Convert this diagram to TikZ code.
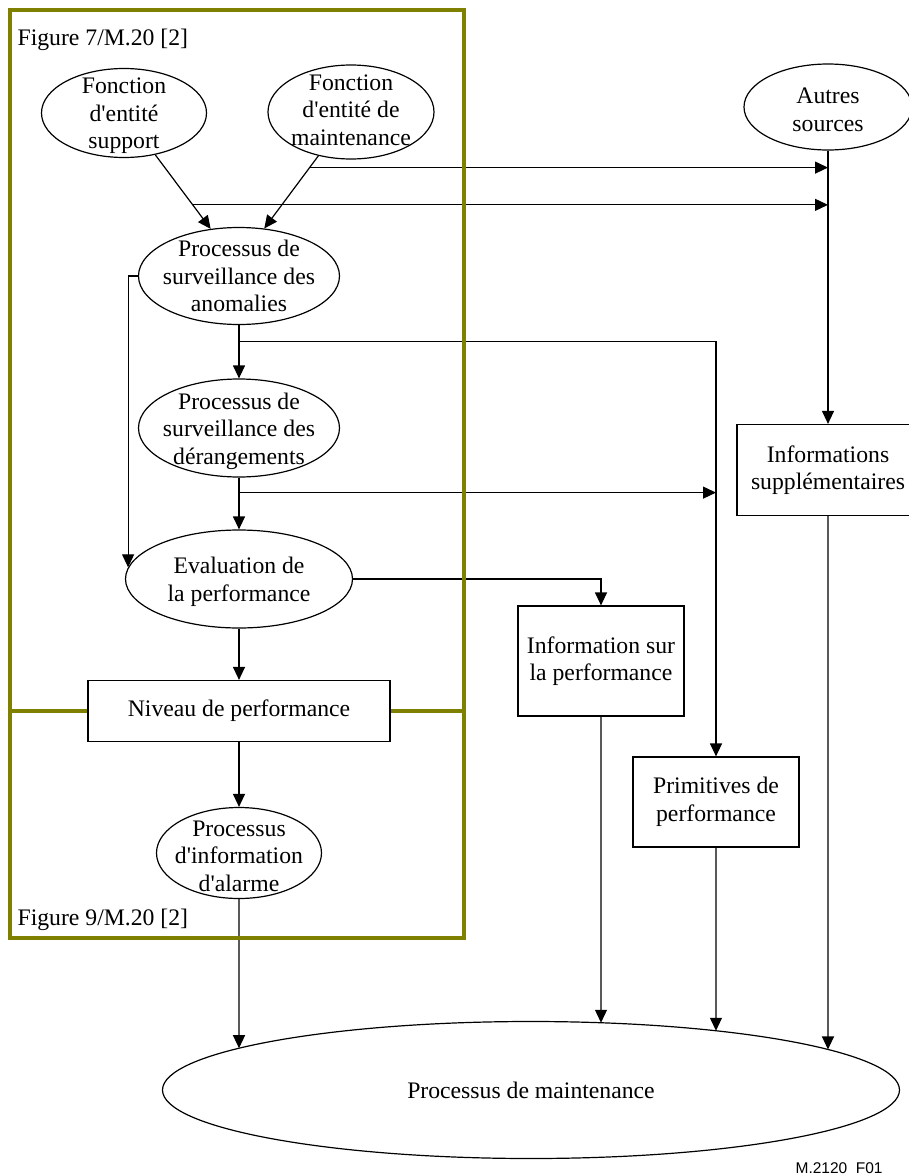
\documentclass[tikz,border=0pt]{standalone}
\usepackage{fontspec}
\setmainfont{Liberation Serif}
\newfontfamily\tagfont{Liberation Sans}
\usetikzlibrary{shapes.geometric,arrows.meta}
\definecolor{frameolive}{RGB}{128,128,0}
\newcommand{\ap}{\textquotesingle}

\begin{document}
\begin{tikzpicture}[x=1pt,y=-1pt,
  font=\fontsize{23.7}{27.5}\selectfont,
  line width=1.2pt,
  >={Triangle[length=13pt,width=12pt]},
  proc/.style={ellipse, draw, inner sep=0pt},
  infobox/.style={rectangle, draw, fill=white, align=center, inner sep=0pt},
  frame/.style={draw=frameolive, line width=3.5pt},
  every label/.style={align=center, yshift=-3pt}]
  \useasboundingbox (0,0) rectangle (908,1175);

  % processes
  \node[proc, minimum width=165pt, minimum height=89pt, label=center:{Fonction\\d\ap entité\\support}] (sup) at (124,113) {};
  \node[proc, minimum width=166pt, minimum height=94pt, label={[yshift=5pt]center:{Fonction\\d\ap entité de\\maintenance}}] (mfn) at (351,112) {};
  \node[proc, minimum width=168pt, minimum height=86pt, label=center:{Autres\\sources}] (autres) at (828,107) {};
  \node[proc, minimum width=201pt, minimum height=97pt, label={[yshift=3pt]center:{Processus de\\surveillance des\\anomalies}}] (anom) at (239,276) {};
  \node[proc, minimum width=201pt, minimum height=98pt, label=center:{Processus de\\surveillance des\\dérangements}] (der) at (239,428) {};
  \node[proc, minimum width=227pt, minimum height=98pt, label=center:{Evaluation de\\la performance}] (eval) at (239,579) {};
  \node[proc, minimum width=165pt, minimum height=91pt, label=center:{Processus\\d\ap information\\d\ap alarme}] (alarm) at (239,853) {};
  \node[proc, minimum width=737pt, minimum height=137pt] (maint) at (531,1090) {Processus de maintenance};

  % boxes
  \node[infobox, minimum width=302pt, minimum height=61pt] (niv) at (239,711) {Niveau de performance};
  \node[infobox, minimum width=166pt, minimum height=110pt] (perf) at (601,661) {Information sur\\la performance};
  \node[infobox, minimum width=166pt, minimum height=90pt] (prim) at (716,802) {Primitives de\\performance};
  \node[infobox, minimum width=182pt, minimum height=91pt] (xinfo) at (828,470) {Informations\\supplémentaires};

  % flows
  \draw[->] (sup) -- (anom.121) coordinate[pos=0.676] (s1);
  \draw[->] (mfn) -- (anom.62) coordinate[pos=0.162] (m1);
  \draw[->] (m1) -- (m1 -| autres);
  \draw[->] (s1) -- (s1 -| autres);
  \draw[->] (autres) -- (xinfo);
  \draw[->] (anom) -- (der);
  \draw[->] (anom.south) -- ++(0,16) -| (prim);
  \draw[->] (anom.west) -| (eval.174);
  \draw[->] (der) -- (eval);
  \draw[->] (der.south) -- ++(0,15) coordinate (d1) -- (d1 -| prim);
  \draw[->] (eval.east) -| (perf);
  \draw[->] (eval) -- (niv);
  \draw[->] (niv) -- (alarm);
  \draw[->] (alarm) -- ([shift={(-142.41:368.5 and 68.5)}]maint.center);
  \draw[->] (perf) -- ([shift={(-79.05:368.5 and 68.5)}]maint.center);
  \draw[->] (prim) -- ([shift={(-59.87:368.5 and 68.5)}]maint.center);
  \draw[->] (xinfo) -- ([shift={(-36.30:368.5 and 68.5)}]maint.center);

  % figure frames
  \draw[frame] (10,10) rectangle (464,938);
  \draw[frame] (10,711) -- (niv.west);
  \draw[frame] (niv.east) -- (464,711);
  \node[anchor=base west, inner sep=0pt] (fig7) at (17,45) {Figure 7/M.20 [2]};
  \node[anchor=base west, inner sep=0pt] (fig9) at (17,925) {Figure 9/M.20 [2]};
  \node[anchor=base west, inner sep=0pt, font=\tagfont\fontsize{15.5}{18}\selectfont] (tag) at (795,1173) {M.2120\ \ F01};
\end{tikzpicture}
\end{document}
